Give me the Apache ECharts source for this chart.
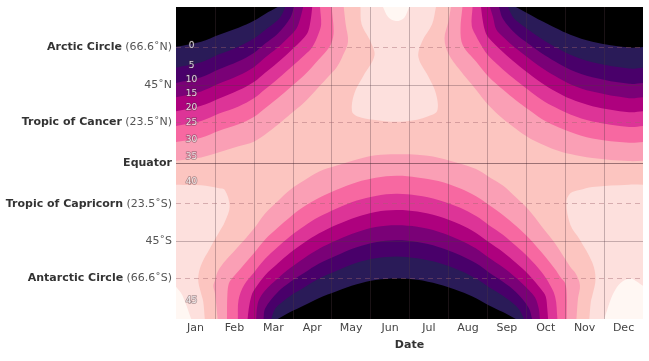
<!DOCTYPE html>
<html><head><meta charset="utf-8">
<script src="https://cdn.jsdelivr.net/npm/echarts@6/dist/echarts.min.js"></script>
<style>html,body{margin:0;padding:0;background:#fff}#c{width:649px;height:361px}</style>
</head><body><div id="c"></div>
<script>
// ---- data (x = month position 0..12, y = latitude) ----
const months = ['Jan','Feb','Mar','Apr','May','Jun','Jul','Aug','Sep','Oct','Nov','Dec'];
const latTicks = [66.6, 45, 23.5, 0, -23.5, -45, -66.6];
const latNames = ['Arctic Circle', '', 'Tropic of Cancer', 'Equator', 'Tropic of Capricorn', '', 'Antarctic Circle'];
const latNotes = ['(66.6˚N)', '45˚N', '(23.5˚N)', '', '(23.5˚S)', '45˚S', '(66.6˚S)'];
const levels = [0, 5, 10, 15, 20, 25, 30, 35, 40, 45];
const labelLats = [67.5, 56, 47.9, 39.8, 31.7, 23.1, 13.3, 3.5, -11.0, -79.6];
const labelMonth = 0.4;

// contour lines: northern winter pieces (Jan side, top-left)
const tl0 = [[0,67.0],[0.645,70.0],[1.107,74.0],[1.607,78.0],[2.0,82.0],[2.29,86.0],[2.613,90]];
const tl5 = [[0,55.0],[0.645,58.1],[1.107,62.7],[1.607,67.1],[2.0,71.8],[2.29,76.8],[2.613,82.4],[2.71,85.2],[2.806,90]];
const tl10 = [[0,46.2],[0.645,49.5],[1.107,54.1],[1.607,58.7],[2.0,63.5],[2.29,68.9],[2.613,74.6],[2.935,83.7],[3.033,90]];
const tl15 = [[0,37.9],[0.645,41.3],[1.107,45.8],[1.607,50.5],[2.0,55.3],[2.29,60.8],[2.613,66.6],[2.935,73.4],[3.1,77.7],[3.2,84],[3.267,90]];
const tl20 = [[0,29.8],[0.645,33.0],[1.107,37.2],[1.607,41.9],[2.0,46.7],[2.29,52.1],[2.613,58.0],[2.935,64.5],[3.3,72.6],[3.4,76.2],[3.47,84],[3.5,90]];
const tl25 = [[0,21.4],[0.645,24.2],[1.107,28.5],[1.607,32.6],[2.0,37.3],[2.29,42.5],[2.613,48.5],[2.935,54.8],[3.3,62.2],[3.5,66.8],[3.667,74.8],[3.73,80],[3.7,90]];
const tl30 = [[0,12.1],[0.645,14.5],[1.107,18.6],[1.607,22.3],[2.0,26.5],[2.29,31.6],[2.613,37.4],[2.935,43.6],[3.3,50.7],[3.667,59.7],[3.9,65.6],[4.0,69.5],[4.05,76],[4.0,90]];
const tl35 = [[0,1.3],[0.645,3.2],[1.107,6.2],[1.607,9.6],[2.0,12.3],[2.29,16.4],[2.613,22.0],[2.935,28.1],[3.3,35.0],[3.667,43.8],[3.9,49.5],[4.129,55.2],[4.29,62.1],[4.42,70],[4.36,80],[4.31,90]];
// northern winter pieces (Dec side, top-right)
const tr0 = [[8.733,90],[9.065,86],[9.387,82],[9.742,78],[10.133,74],[10.7,70],[11.645,66.6],[12,66.9]];
const tr5 = [[8.533,90],[8.63,85.3],[8.733,82.3],[9.065,76.7],[9.387,71.7],[9.742,66.9],[10.133,62.5],[10.7,58.1],[11.645,54.5],[12,55.0]];
const tr10 = [[8.3,90],[8.4,83.2],[8.733,74.4],[9.065,68.6],[9.387,63.4],[9.742,58.5],[10.133,53.8],[10.7,49.5],[11.645,45.7],[12,46.2]];
const tr15 = [[8.067,90],[8.15,84],[8.23,77],[8.4,72.9],[8.733,66.2],[9.065,60.5],[9.387,55.1],[9.742,50.2],[10.133,45.5],[10.7,41.2],[11.645,37.4],[12,37.9]];
const tr20 = [[7.839,90],[7.87,84],[7.94,76.3],[8.033,72.2],[8.4,64.0],[8.733,57.5],[9.065,51.6],[9.387,46.3],[9.742,41.4],[10.133,37.0],[10.7,32.8],[11.645,29.3],[12,29.8]];
const tr25 = [[7.62,90],[7.6,79],[7.71,73.3],[7.87,66.9],[8.033,61.7],[8.4,54.0],[8.733,47.8],[9.065,42.0],[9.387,36.7],[9.742,32.1],[10.133,28.0],[10.7,24.0],[11.645,20.8],[12,21.4]];
const tr30 = [[7.36,90],[7.31,77],[7.37,68],[7.71,58.6],[8.033,49.8],[8.4,42.4],[8.733,36.2],[9.065,30.7],[9.387,25.6],[9.742,21.5],[10.133,17.9],[10.7,14.2],[11.645,11.7],[12,12.1]];
const tr35 = [[7.065,90],[7.0,81.7],[6.9,72],[7.0,63.1],[7.29,53.8],[7.71,42.3],[8.033,33.3],[8.4,25.5],[8.733,19.8],[9.065,14.6],[9.387,11.0],[9.742,7.7],[10.133,5.2],[10.7,2.9],[11.645,1.1],[12,1.3]];
// southern winter pieces (bottom)
const b0 = [[2.613,-90],[2.935,-86],[3.3,-82],[3.667,-78],[4.129,-74],[4.645,-70],[5.13,-67.5],[5.667,-66.6],[6.2,-67.4],[6.742,-70],[7.29,-74],[7.71,-78],[8.033,-82],[8.4,-86],[8.733,-90]];
const b5 = [[2.45,-90],[2.52,-85.3],[2.613,-82.4],[2.935,-76.7],[3.3,-71.7],[3.667,-66.8],[4.129,-62.2],[4.645,-57.6],[5.13,-55.0],[5.667,-53.9],[6.2,-55.0],[6.742,-57.6],[7.29,-62.0],[7.71,-66.7],[8.033,-71.5],[8.4,-76.6],[8.733,-82.3],[8.84,-85.3],[8.94,-90]];
const b10 = [[2.25,-90],[2.29,-84],[2.613,-74.6],[2.935,-68.7],[3.3,-63.3],[3.667,-58.1],[4.129,-53.3],[4.645,-48.6],[5.13,-45.7],[5.667,-44.6],[6.2,-45.6],[6.742,-48.4],[7.29,-53.1],[7.71,-57.9],[8.033,-63.0],[8.4,-68.5],[8.733,-74.4],[9.065,-83.6],[9.15,-90]];
const b15 = [[2.06,-90],[2.08,-84],[2.13,-79],[2.29,-73.5],[2.613,-66.6],[2.935,-60.6],[3.3,-54.8],[3.667,-49.6],[4.129,-44.6],[4.645,-40.0],[5.13,-36.9],[5.667,-35.9],[6.2,-36.8],[6.742,-39.6],[7.29,-44.4],[7.71,-49.3],[8.033,-54.5],[8.4,-60.2],[8.733,-66.2],[9.065,-73.2],[9.23,-77.8],[9.32,-84],[9.35,-90]];
const b20 = [[1.84,-90],[1.87,-84],[1.93,-77.3],[2.0,-73.6],[2.29,-64.8],[2.613,-58.0],[2.935,-51.8],[3.3,-45.9],[3.667,-40.7],[4.129,-35.6],[4.645,-31.1],[5.13,-28.2],[5.667,-27.1],[6.2,-28.0],[6.742,-30.7],[7.29,-35.4],[7.71,-40.4],[8.033,-45.6],[8.4,-51.3],[8.733,-57.5],[9.065,-64.4],[9.387,-73.0],[9.5,-77],[9.54,-84],[9.56,-90]];
const b25 = [[1.59,-90],[1.607,-79],[1.75,-70.4],[2.0,-63.3],[2.29,-55.3],[2.613,-48.5],[2.935,-42.2],[3.3,-36.3],[3.667,-31.2],[4.129,-26.2],[4.645,-21.7],[5.13,-19.0],[5.667,-17.8],[6.2,-18.8],[6.742,-21.3],[7.29,-25.7],[7.71,-30.6],[8.033,-35.7],[8.4,-41.4],[8.733,-47.8],[9.065,-54.6],[9.387,-62.7],[9.55,-68],[9.742,-77.1],[9.8,-90]];
const b30 = [[1.31,-90],[1.32,-76],[1.36,-69.4],[1.46,-66.1],[1.607,-62.3],[2.0,-52.1],[2.29,-44.1],[2.613,-37.4],[2.935,-31.1],[3.3,-25.0],[3.667,-20.2],[4.129,-15.4],[4.645,-11.1],[5.13,-8.5],[5.667,-7.4],[6.2,-8.3],[6.742,-10.4],[7.29,-14.6],[7.71,-19.2],[8.033,-24.1],[8.4,-30.0],[8.733,-36.2],[9.065,-43.2],[9.387,-51.4],[9.742,-61.3],[9.87,-65.6],[10.0,-69.4],[10.04,-76],[10.04,-90]];
const b35 = [[1.07,-90],[1.0,-75],[0.96,-71],[1.0,-67.8],[1.107,-61.1],[1.607,-48.1],[2.0,-37.9],[2.29,-29.1],[2.613,-22.0],[2.935,-15.4],[3.3,-10.0],[3.667,-5.0],[4.129,-1.5],[4.645,2.0],[5.13,4.4],[5.667,5.0],[6.2,4.7],[6.742,3.1],[7.29,-0.3],[7.71,-3.5],[8.033,-7.9],[8.4,-13.0],[8.733,-19.8],[9.065,-27.1],[9.387,-36.3],[9.742,-46.5],[10.133,-60.0],[10.27,-63.8],[10.38,-70.5],[10.33,-78],[10.29,-90]];
// summer highs (40 and 45 contours)
const hi40N = [[4.74,90],[4.77,80],[5.0,70],[5.1,62],[4.81,50],[4.58,40],[4.52,30],[4.65,27],[5.07,25],[5.67,23.8],[6.19,25],[6.48,27],[6.71,30],[6.68,40],[6.48,50],[6.23,61],[6.32,70],[6.58,80],[6.68,90]];
const hi40SL = [[0,-12.6],[0.645,-12.9],[1.107,-14.6],[1.25,-15.5],[1.38,-25],[1.25,-34.2],[1.107,-40.0],[0.87,-49.3],[0.645,-58.8],[0.57,-67],[0.645,-75.3],[0.70,-80],[0.74,-90]];
const hi40SR = [[10.62,-90],[10.66,-80],[10.7,-76.3],[10.78,-67],[10.7,-57.6],[10.37,-44],[10.133,-35.6],[10.03,-23],[10.133,-17.5],[10.37,-15.6],[10.7,-13.8],[11.645,-12.5],[12,-12.6]];
const hi45N = [[5.32,90],[5.45,84.2],[5.65,81.9],[5.86,83.7],[5.99,90]];
const hi45SL = [[0,-71.4],[0.16,-76.2],[0.39,-90]];
const hi45SR = [[11.0,-90],[11.3,-72.7],[11.645,-66.7],[12,-70.8]];

// ---- styling ----
const bandColors = ['#000000','#2a1b58','#49006a','#7a0177','#ae017e','#dd3497','#f768a1','#fa9fb5','#fcc5c0','#fde0dd','#fff7f3'];
const X0 = 0, X1 = months.length, Y0 = -90, Y1 = 90;
const TLc = [[X0, Y1]], TRc = [[X1, Y1]], BLc = [[X0, Y0]], BRc = [[X1, Y0]];

const pieces = [
  {pts: hi40N, corners: [], color: bandColors[9]},
  {pts: hi40SL, corners: BLc, color: bandColors[9]},
  {pts: hi40SR, corners: BRc, color: bandColors[9]},
  {pts: hi45N, corners: [], color: bandColors[10]},
  {pts: hi45SL, corners: BLc, color: bandColors[10]},
  {pts: hi45SR, corners: BRc, color: bandColors[10]}
];
const lowSets = [[tl35,tr35,b35],[tl30,tr30,b30],[tl25,tr25,b25],[tl20,tr20,b20],[tl15,tr15,b15],[tl10,tr10,b10],[tl5,tr5,b5],[tl0,tr0,b0]];
lowSets.forEach((set, k) => {
  const col = bandColors[7 - k];
  pieces.push({pts: set[0], corners: TLc, color: col});
  pieces.push({pts: set[1], corners: TRc, color: col});
  pieces.push({pts: set[2], corners: [], color: col});
});

const gridLine = {color: 'rgba(80,55,65,0.32)', width: 1, type: 'solid'};
const dashLine = {color: 'rgba(160,100,110,0.42)', width: 1, type: [5, 4]};
const eqLine = {color: 'rgba(60,30,40,0.5)', width: 1, type: 'solid'};
const markData = [];
for (let i = 1; i < months.length; i++) markData.push({xAxis: i, lineStyle: gridLine});
latTicks.forEach(v => {
  const st = v === 0 ? eqLine : (Math.abs(v) === 45 ? gridLine : dashLine);
  markData.push({yAxis: v, lineStyle: st});
});

const FONT = 'DejaVu Sans';
const option = {
  animation: false,
  grid: {left: 176, right: 6, top: 7, bottom: 42, show: true, backgroundColor: bandColors[8], borderWidth: 0},
  xAxis: {
    type: 'value', min: X0, max: X1,
    name: 'Date', nameLocation: 'middle', nameGap: 21,
    nameTextStyle: {fontFamily: FONT, fontWeight: 'bold', fontSize: 11, color: '#333'},
    axisLine: {show: false}, axisTick: {show: false}, splitLine: {show: false},
    axisLabel: {
      customValues: months.map((m, i) => i + 0.5),
      formatter: v => months[Math.floor(v)],
      fontFamily: FONT, fontSize: 11, color: '#444', margin: 4
    }
  },
  yAxis: {
    type: 'value', min: Y0, max: Y1,
    axisLine: {show: false}, axisTick: {show: false}, splitLine: {show: false},
    axisLabel: {
      customValues: latTicks,
      margin: 4,
      formatter: v => {
        const i = latTicks.indexOf(v);
        const n = latNames[i], t = latNotes[i];
        if (n && t) return '{b|' + n + '} {n|' + t + '}';
        if (n) return '{b|' + n + '}';
        return '{n|' + t + '}';
      },
      rich: {
        b: {fontFamily: FONT, fontWeight: 'bold', fontSize: 11, color: '#333'},
        n: {fontFamily: FONT, fontSize: 11, color: '#555'}
      }
    }
  },
  series: [
    {
      type: 'custom', coordinateSystem: 'cartesian2d', clip: true, z: 1, silent: true,
      data: pieces.map((p, i) => [p.pts[0][0], p.pts[0][1], i]),
      encode: {x: 0, y: 1},
      renderItem: (params, api) => {
        const p = pieces[params.dataIndex];
        const pts = [];
        const add = q => { const c = api.coord(q); pts.push(c); };
        add(p.pts[0]);
        p.pts.forEach(add);
        add(p.pts[p.pts.length - 1]);
        p.corners.forEach(q => { add(q); add(q); });
        return {type: 'polygon', shape: {points: pts, smooth: 0.35}, style: {fill: p.color}};
      }
    },
    {
      type: 'scatter', z: 5, silent: true,
      symbolSize: 1, itemStyle: {color: 'rgba(0,0,0,0)'},
      data: levels.map((lv, i) => [labelMonth, labelLats[i], lv]),
      label: {
        show: true, position: 'inside', formatter: p => String(p.value[2]),
        fontFamily: FONT, fontSize: 9, color: '#fff',
        textBorderColor: 'rgba(70,50,60,0.55)', textBorderWidth: 1.5
      },
      markLine: {
        silent: true, symbol: ['none', 'none'], label: {show: false},
        emphasis: {disabled: true}, animation: false,
        data: markData
      }
    }
  ]
};
const chart = echarts.init(document.getElementById('c'));
chart.setOption(option);
</script></body></html>
